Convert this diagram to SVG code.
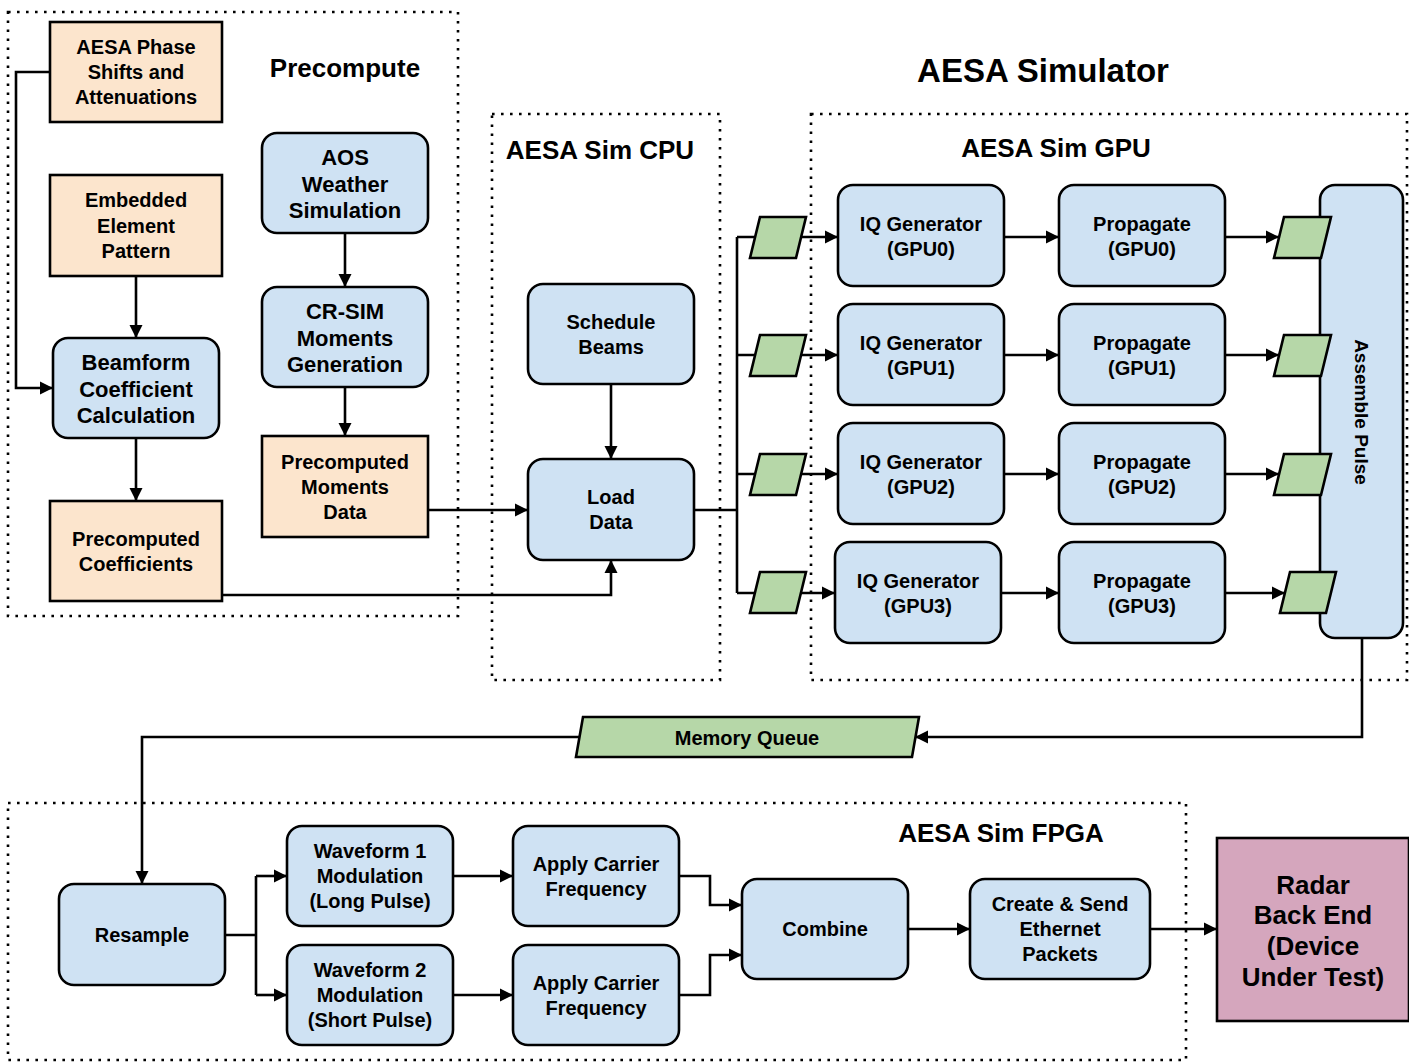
<svg xmlns="http://www.w3.org/2000/svg" width="1409" height="1063" viewBox="0 0 1409 1063">
  <defs>
    <marker id="arrow" markerUnits="userSpaceOnUse" markerWidth="14" markerHeight="14" viewBox="0 0 14 14" refX="13" refY="7" orient="auto">
      <path d="M0,0.5 L13,7 L0,13.5 Z" fill="#000"/>
    </marker>
    <style>
      .group { fill: none; stroke: #000; stroke-width: 2.6; stroke-dasharray: 2.6 6.4; }
      .proc { fill: #cfe2f3; stroke: #000; stroke-width: 2.6; }
      .data { fill: #fce5cd; stroke: #000; stroke-width: 2.6; }
      .buf { fill: #b6d7a8; stroke: #000; stroke-width: 2.6; }
      .dut { fill: #d5a6bd; stroke: #000; stroke-width: 2.6; }
      .wire { fill: none; stroke: #000; stroke-width: 2.6; }
      .arr { marker-end: url(#arrow); }
      text { font-family: "Liberation Sans", Arial, sans-serif; font-weight: bold; fill: #000; text-anchor: middle; }
      .t20 { font-size: 20px; }
      .t22 { font-size: 22px; }
      .t26 { font-size: 26px; }
      .t33 { font-size: 33px; }
    </style>
  </defs>

  <rect width="1409" height="1063" fill="#fff"/>

  <!-- grouping frames -->
  <g id="frames">
    <rect class="group" x="8" y="12" width="450" height="604"/>
    <rect class="group" x="492" y="114" width="228" height="566"/>
    <rect class="group" x="811" y="114" width="596" height="566"/>
    <rect class="group" x="8" y="803" width="1178" height="257"/>
  </g>

  <!-- titles -->
  <g id="titles">
    <text class="t26" x="345" y="77">Precompute</text>
    <text class="t33" x="1043" y="82">AESA Simulator</text>
    <text class="t26" x="600" y="159">AESA Sim CPU</text>
    <text class="t26" x="1056" y="157">AESA Sim GPU</text>
    <text class="t26" x="1001" y="842">AESA Sim FPGA</text>
  </g>

  <!-- connectors -->
  <g id="connectors">
    <path class="wire arr" d="M50,72 H16 V388 H53"/>
    <path class="wire arr" d="M136,276 V338"/>
    <path class="wire arr" d="M136,438 V501"/>
    <path class="wire arr" d="M345,233 V287"/>
    <path class="wire arr" d="M345,387 V436"/>
    <path class="wire arr" d="M428,510 H528"/>
    <path class="wire arr" d="M222,595 H611 V560"/>
    <path class="wire arr" d="M611,384 V459"/>

    <path class="wire" d="M694,510 H737 M737,237 V593"/>
    <path class="wire arr" d="M737,237 H838"/>
    <path class="wire arr" d="M737,355 H838"/>
    <path class="wire arr" d="M737,474 H838"/>
    <path class="wire arr" d="M737,593 H835"/>

    <path class="wire arr" d="M1004,237 H1059"/>
    <path class="wire arr" d="M1004,355 H1059"/>
    <path class="wire arr" d="M1004,474 H1059"/>
    <path class="wire arr" d="M1001,593 H1059"/>

    <path class="wire arr" d="M1225,237 H1279"/>
    <path class="wire arr" d="M1225,355 H1279"/>
    <path class="wire arr" d="M1225,474 H1279"/>
    <path class="wire arr" d="M1225,593 H1285"/>

    <path class="wire arr" d="M1362,638 V737 H915"/>
    <path class="wire arr" d="M580,737 H142 V884"/>

    <path class="wire" d="M225,935 H256 M256,876 V995"/>
    <path class="wire arr" d="M256,876 H287"/>
    <path class="wire arr" d="M256,995 H287"/>
    <path class="wire arr" d="M453,876 H513"/>
    <path class="wire arr" d="M453,995 H513"/>
    <path class="wire arr" d="M679,876 H710 V905 H742"/>
    <path class="wire arr" d="M679,995 H710 V955 H742"/>
    <path class="wire arr" d="M908,929 H970"/>
    <path class="wire arr" d="M1150,929 H1217"/>
  </g>

  <!-- precompute nodes -->
  <g id="aesa-phase">
    <rect class="data" x="50" y="22" width="172" height="100"/>
    <text class="t20" x="136" y="54">AESA Phase</text>
    <text class="t20" x="136" y="79">Shifts and</text>
    <text class="t20" x="136" y="104">Attenuations</text>
  </g>
  <g id="embedded-pattern">
    <rect class="data" x="50" y="175" width="172" height="101"/>
    <text class="t20" x="136" y="207">Embedded</text>
    <text class="t20" x="136" y="233">Element</text>
    <text class="t20" x="136" y="258">Pattern</text>
  </g>
  <g id="beamform">
    <rect class="proc" x="53" y="338" width="166" height="100" rx="15"/>
    <text class="t22" x="136" y="370">Beamform</text>
    <text class="t22" x="136" y="397">Coefficient</text>
    <text class="t22" x="136" y="423">Calculation</text>
  </g>
  <g id="precomputed-coefficients">
    <rect class="data" x="50" y="501" width="172" height="100"/>
    <text class="t20" x="136" y="546">Precomputed</text>
    <text class="t20" x="136" y="571">Coefficients</text>
  </g>
  <g id="aos-weather">
    <rect class="proc" x="262" y="133" width="166" height="100" rx="15"/>
    <text class="t22" x="345" y="165">AOS</text>
    <text class="t22" x="345" y="192">Weather</text>
    <text class="t22" x="345" y="218">Simulation</text>
  </g>
  <g id="crsim">
    <rect class="proc" x="262" y="287" width="166" height="100" rx="15"/>
    <text class="t22" x="345" y="319">CR-SIM</text>
    <text class="t22" x="345" y="346">Moments</text>
    <text class="t22" x="345" y="372">Generation</text>
  </g>
  <g id="precomputed-moments">
    <rect class="data" x="262" y="436" width="166" height="101"/>
    <text class="t20" x="345" y="469">Precomputed</text>
    <text class="t20" x="345" y="494">Moments</text>
    <text class="t20" x="345" y="519">Data</text>
  </g>

  <!-- CPU nodes -->
  <g id="schedule-beams">
    <rect class="proc" x="528" y="284" width="166" height="100" rx="15"/>
    <text class="t20" x="611" y="329">Schedule</text>
    <text class="t20" x="611" y="354">Beams</text>
  </g>
  <g id="load-data">
    <rect class="proc" x="528" y="459" width="166" height="101" rx="15"/>
    <text class="t20" x="611" y="504">Load</text>
    <text class="t20" x="611" y="529">Data</text>
  </g>

  <!-- GPU input buffers -->
  <g id="buf-in-0"><polygon class="buf" points="760,217 806,217 796,258 750,258"/></g>
  <g id="buf-in-1"><polygon class="buf" points="760,335 806,335 796,376 750,376"/></g>
  <g id="buf-in-2"><polygon class="buf" points="760,454 806,454 796,495 750,495"/></g>
  <g id="buf-in-3"><polygon class="buf" points="760,572 806,572 796,613 750,613"/></g>

  <!-- GPU nodes -->
  <g id="iq-gpu0">
    <rect class="proc" x="838" y="185" width="166" height="101" rx="15"/>
    <text class="t20" x="921" y="231">IQ Generator</text>
    <text class="t20" x="921" y="256">(GPU0)</text>
  </g>
  <g id="iq-gpu1">
    <rect class="proc" x="838" y="304" width="166" height="101" rx="15"/>
    <text class="t20" x="921" y="350">IQ Generator</text>
    <text class="t20" x="921" y="375">(GPU1)</text>
  </g>
  <g id="iq-gpu2">
    <rect class="proc" x="838" y="423" width="166" height="101" rx="15"/>
    <text class="t20" x="921" y="469">IQ Generator</text>
    <text class="t20" x="921" y="494">(GPU2)</text>
  </g>
  <g id="iq-gpu3">
    <rect class="proc" x="835" y="542" width="166" height="101" rx="15"/>
    <text class="t20" x="918" y="588">IQ Generator</text>
    <text class="t20" x="918" y="613">(GPU3)</text>
  </g>
  <g id="prop-gpu0">
    <rect class="proc" x="1059" y="185" width="166" height="101" rx="15"/>
    <text class="t20" x="1142" y="231">Propagate</text>
    <text class="t20" x="1142" y="256">(GPU0)</text>
  </g>
  <g id="prop-gpu1">
    <rect class="proc" x="1059" y="304" width="166" height="101" rx="15"/>
    <text class="t20" x="1142" y="350">Propagate</text>
    <text class="t20" x="1142" y="375">(GPU1)</text>
  </g>
  <g id="prop-gpu2">
    <rect class="proc" x="1059" y="423" width="166" height="101" rx="15"/>
    <text class="t20" x="1142" y="469">Propagate</text>
    <text class="t20" x="1142" y="494">(GPU2)</text>
  </g>
  <g id="prop-gpu3">
    <rect class="proc" x="1059" y="542" width="166" height="101" rx="15"/>
    <text class="t20" x="1142" y="588">Propagate</text>
    <text class="t20" x="1142" y="613">(GPU3)</text>
  </g>

  <g id="assemble-pulse">
    <rect class="proc" x="1320" y="185" width="83" height="453" rx="15"/>
    <text class="t20" transform="translate(1362,412) rotate(90)" x="0" y="7" style="font-size:19px">Assemble Pulse</text>
  </g>

  <!-- GPU output buffers (overlap the assemble stage) -->
  <g id="buf-out-0"><polygon class="buf" points="1284,217 1331,217 1321,258 1274,258"/></g>
  <g id="buf-out-1"><polygon class="buf" points="1284,335 1331,335 1321,376 1274,376"/></g>
  <g id="buf-out-2"><polygon class="buf" points="1284,454 1331,454 1321,495 1274,495"/></g>
  <g id="buf-out-3"><polygon class="buf" points="1290,572 1336,572 1326,613 1280,613"/></g>

  <g id="memory-queue">
    <polygon class="buf" points="583,717 919,717 912,757 576,757"/>
    <text class="t20" x="747" y="745">Memory Queue</text>
  </g>

  <!-- FPGA nodes -->
  <g id="resample">
    <rect class="proc" x="59" y="884" width="166" height="101" rx="15"/>
    <text class="t20" x="142" y="942">Resample</text>
  </g>
  <g id="waveform1">
    <rect class="proc" x="287" y="826" width="166" height="100" rx="15"/>
    <text class="t20" x="370" y="858">Waveform 1</text>
    <text class="t20" x="370" y="883">Modulation</text>
    <text class="t20" x="370" y="908">(Long Pulse)</text>
  </g>
  <g id="waveform2">
    <rect class="proc" x="287" y="945" width="166" height="100" rx="15"/>
    <text class="t20" x="370" y="977">Waveform 2</text>
    <text class="t20" x="370" y="1002">Modulation</text>
    <text class="t20" x="370" y="1027">(Short Pulse)</text>
  </g>
  <g id="carrier1">
    <rect class="proc" x="513" y="826" width="166" height="100" rx="15"/>
    <text class="t20" x="596" y="871">Apply Carrier</text>
    <text class="t20" x="596" y="896">Frequency</text>
  </g>
  <g id="carrier2">
    <rect class="proc" x="513" y="945" width="166" height="100" rx="15"/>
    <text class="t20" x="596" y="990">Apply Carrier</text>
    <text class="t20" x="596" y="1015">Frequency</text>
  </g>
  <g id="combine">
    <rect class="proc" x="742" y="879" width="166" height="100" rx="15"/>
    <text class="t20" x="825" y="936">Combine</text>
  </g>
  <g id="ethernet">
    <rect class="proc" x="970" y="879" width="180" height="100" rx="15"/>
    <text class="t20" x="1060" y="911">Create &amp; Send</text>
    <text class="t20" x="1060" y="936">Ethernet</text>
    <text class="t20" x="1060" y="961">Packets</text>
  </g>

  <g id="radar-back-end">
    <rect class="dut" x="1217" y="838" width="192" height="183"/>
    <text class="t26" x="1313" y="894">Radar</text>
    <text class="t26" x="1313" y="924">Back End</text>
    <text class="t26" x="1313" y="955">(Device</text>
    <text class="t26" x="1313" y="986">Under Test)</text>
  </g>
</svg>
